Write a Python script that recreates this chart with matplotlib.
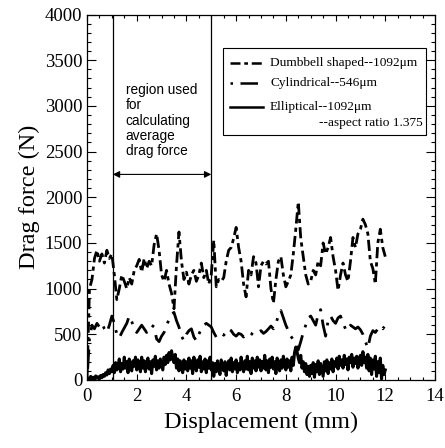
import numpy as np
import matplotlib
matplotlib.use("Agg")
import matplotlib.pyplot as plt
from matplotlib.lines import Line2D
from matplotlib.patches import Rectangle
from matplotlib.ticker import MultipleLocator

# ---------------- data ----------------
x_coarse = np.round(np.arange(0, 12.0001, 0.1), 2)
x_fine = np.round(np.arange(0, 12.0001, 0.05), 2)

dumbbell = [
    0, 1000, 1100, 1330, 1420, 1300, 1380, 1280, 1420, 1330,
    1380, 1150, 880, 1000, 1150, 1080, 1000, 1120, 1050, 1200,
    1250, 1320, 1180, 1330, 1220, 1300, 1250, 1480, 1600, 1420,
    1150, 1080, 1200, 1050, 950, 780, 1250, 1620, 1300, 1100,
    1180, 1050, 1150, 1200, 1080, 1150, 1280, 1120, 1200, 1050,
    1150, 1530, 1020, 1100, 1080, 1120, 1300, 1420, 1450, 1550,
    1670, 1450, 1300, 1050, 910, 1200, 1150, 1350, 1280, 1020,
    1250, 1300, 1270, 1300, 1000, 840, 1100, 1300, 1350, 1150,
    1020, 1080, 1150, 1380, 1650, 1950, 1550, 1350, 1150, 1050,
    1080, 1200, 1150, 1300, 1250, 1500, 1380, 1450, 1560, 1350,
    1200, 980, 1150, 1280, 1150, 1080, 1300, 1560, 1450, 1600,
    1650, 1760, 1700, 1600, 1300, 1220, 1050, 1500, 1650, 1450,
    1350,
]

cylindrical = [
    0, 450, 600, 560, 620, 580, 620, 560, 520, 600,
    700, 620, 500, 460, 520, 570, 620, 700, 640, 560,
    520, 560, 600, 560, 520, 560, 600, 580, 450, 420,
    480, 520, 600, 660, 720, 740, 650, 580, 480, 430,
    500, 540, 560, 470, 430, 500, 560, 600, 620, 600,
    580, 520, 470, 480, 510, 490, 520, 560, 540, 500,
    480, 510, 500, 470, 500, 520, 510, 490, 500, 520,
    540, 510, 530, 560, 590, 560, 620, 700, 760, 680,
    600, 540, 480, 440, 400, 330, 420, 520, 600, 680,
    700, 650, 600, 720, 770, 600, 480, 650, 700, 650,
    620, 680, 700, 620, 560, 540, 600, 580, 560, 580,
    550, 500, 420, 350, 480, 540, 520, 560, 590, 560,
    600,
]

elliptical = [
    0, 20, 10, 40, 15, 30, 5, 45, 20, 35, 10, 50, 25, 60, 40, 80, 55, 110, 70, 120,
    90, 160, 80, 190, 110, 150, 230, 90, 180, 120, 250, 130, 200, 80, 230, 140, 100, 210, 150, 250,
    110, 220, 160, 90, 250, 130, 210, 90, 190, 240, 120, 200, 70, 220, 150, 260, 110, 210, 130, 230,
    170, 110, 250, 170, 270, 190, 300, 220, 320, 240, 190, 280, 130, 230, 100, 210, 150, 80, 220, 120,
    200, 100, 240, 130, 210, 70, 250, 160, 100, 220, 140, 260, 90, 200, 120, 230, 80, 210, 130, 250,
    110, 190, 40, 180, 90, 210, 120, 60, 220, 130, 100, 200, 50, 170, 210, 110, 240, 90, 190, 120,
    220, 80, 180, 110, 250, 140, 90, 210, 120, 260, 110, 200, 70, 240, 130, 210, 100, 250, 140, 220,
    100, 200, 130, 270, 110, 210, 80, 230, 140, 250, 120, 200, 70, 240, 150, 100, 220, 130, 260, 170,
    110, 230, 140, 210, 100, 250, 160, 300, 360, 310, 240, 190, 270, 130, 200, 90, 180, 60, 150, 40,
    160, 70, 190, 30, 170, 90, 210, 60, 180, 110, 40, 200, 100, 220, 70, 190, 120, 230, 90, 200,
    150, 240, 120, 260, 160, 220, 130, 270, 170, 230, 110, 250, 190, 280, 140, 240, 180, 260, 130, 230,
    270, 160, 310, 190, 250, 130, 280, 100, 240, 60, 220, 120, 260, 40, 200, 80, 240, 10, 160, 60, 110,
]

region_bounds = [1.04, 5.0]
arrow_y = 2250
labels = ["Dumbbell shaped--1092\u03bcm", "Cylindrical--546\u03bcm", "Elliptical--1092\u03bcm"]
extra_label = "--aspect ratio 1.375"

# ---------------- plot ----------------
serif = ["Liberation Serif", "DejaVu Serif"]
sans = ["Liberation Sans", "DejaVu Sans"]

fig = plt.figure(figsize=(4.45, 4.48), dpi=100)
ax = fig.add_axes([0.1955, 0.1518, 0.782, 0.8158])

dumb_ls = (0, (4, 1.5, 1.5, 1.5))
cyl_ls = (0, (1, 3, 7, 3))

ax.plot(x_coarse, dumbbell, color="black", lw=2.0, linestyle=dumb_ls)
ax.plot(x_coarse, cylindrical, color="black", lw=2.0, linestyle=cyl_ls)
ax.plot(x_fine, elliptical, color="black", lw=2.2, linestyle="-")

for b in region_bounds:
    ax.axvline(b, color="black", lw=0.9)

ax.annotate("", xy=(region_bounds[0], arrow_y), xytext=(region_bounds[1], arrow_y),
            arrowprops=dict(arrowstyle="<|-|>", color="black", lw=0.8,
                            mutation_scale=10, shrinkA=0, shrinkB=0))
ax.text(1.55, 2840, "region used\nfor\ncalculating\naverage\ndrag force",
        family=sans, fontsize=9.8, va="center", ha="left", linespacing=1.1)

ax.set_xlim(0, 14)
ax.set_ylim(0, 4000)
ax.xaxis.set_major_locator(MultipleLocator(2))
ax.xaxis.set_minor_locator(MultipleLocator(0.5))
ax.yaxis.set_major_locator(MultipleLocator(500))
ax.yaxis.set_minor_locator(MultipleLocator(100))
ax.tick_params(which="both", direction="in", top=True, right=True, width=0.8)
ax.tick_params(axis="y", which="major", length=6.5)
ax.tick_params(axis="y", which="minor", length=3)
ax.tick_params(axis="x", which="major", length=4.5)
ax.tick_params(axis="x", which="minor", length=2.5)
ax.tick_params(which="major", labelsize=13.5)
ax.tick_params(axis="x", which="major", pad=6)
for lab in ax.get_xticklabels() + ax.get_yticklabels():
    lab.set_family(serif)
for s in ax.spines.values():
    s.set_linewidth(0.9)

ax.set_xlabel("Displacement (mm)", family=serif, fontsize=17.5, labelpad=5)
ax.set_ylabel("Drag force (N)", family=serif, fontsize=17.5, labelpad=3)

# manual legend box (axes fraction coordinates)
T = ax.transAxes
ax.add_patch(Rectangle((0.39, 0.670), 0.585, 0.2375, transform=T, fill=False,
                       lw=0.8, edgecolor="black"))
ys = [0.868, 0.812, 0.748]
styles = [dumb_ls, cyl_ls, "-"]
for yy, st, lb in zip(ys, styles, labels):
    ax.add_line(Line2D([0.412, 0.506], [yy, yy], transform=T, color="black",
                       lw=1.8, linestyle=st))
    ax.text(0.526, yy, lb, transform=T, family=serif, fontsize=9.6, va="center", ha="left")
ax.text(0.965, 0.702, extra_label, transform=T, family=serif, fontsize=9.6,
        va="center", ha="right")

fig.savefig("out.png", dpi=100)
